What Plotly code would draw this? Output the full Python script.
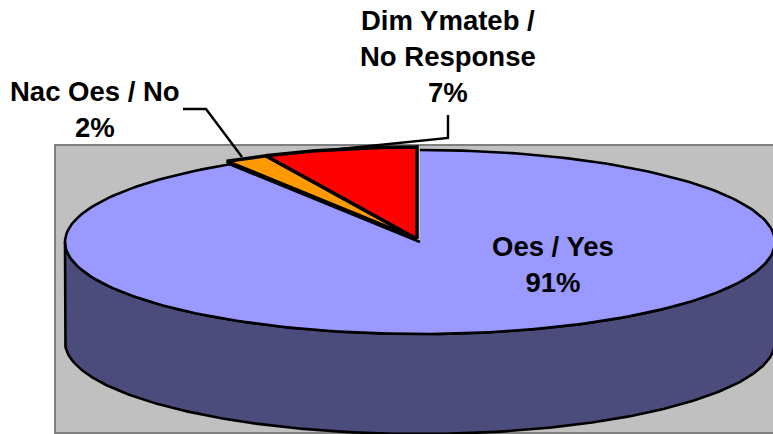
import numpy as np
import plotly.graph_objects as go

labels = ["Oes / Yes", "Nac Oes / No", "Dim Ymateb /<br>No Response"]
values = [91, 2, 7]
colors = ["#9999FF", "#FF9900", "#FF0000"]
side_color = "#4C4C7C"

W, H = 773, 434
CX, CY, RX, RY = 420, 242, 355, 92
DEPTH = 100
SHIFT = (-3, -3)   # small explosion of the two small slices


def pt(theta, cx=CX, cy=CY):
    return cx + RX * np.sin(theta), cy - RY * np.cos(theta)


def arc(a, b, cx=CX, cy=CY):
    t = np.linspace(a, b, 240)
    return pt(t, cx, cy)


fig = go.Figure()

# side wall of the Yes slice
t0, t1 = np.pi / 2, 3 * np.pi / 2
xt, yt = arc(t0, t1)
xs = np.concatenate([xt, xt[::-1], xt[:1]])
ys = np.concatenate([yt, (yt + DEPTH)[::-1], yt[:1]])
fig.add_trace(go.Scatter(x=xs, y=ys, mode="lines", fill="toself", fillcolor=side_color,
                         line=dict(color="black", width=2.6), hoverinfo="skip"))

# top faces
total = sum(values)
start = 0.0
for i, (v, c) in enumerate(zip(values, colors)):
    a, b = start, start + 2 * np.pi * v / total
    start = b
    cx, cy = (CX, CY) if i == 0 else (CX + SHIFT[0], CY + SHIFT[1])
    xa, ya = arc(a, b, cx, cy)
    xp = np.concatenate([[cx], xa, [cx]])
    yp = np.concatenate([[cy], ya, [cy]])
    fig.add_trace(go.Scatter(x=xp, y=yp, mode="lines", fill="toself", fillcolor=c,
                             line=dict(color="rgba(0,0,0,0)", width=0), hoverinfo="skip"))
    # outline: the large slice leaves its 12-o'clock edge unstroked
    xo = xp[1:] if i == 0 else xp
    yo = yp[1:] if i == 0 else yp
    fig.add_trace(go.Scatter(x=xo, y=yo, mode="lines",
                             line=dict(color="black", width=2.6 if i == 0 else 3.5),
                             hoverinfo="skip"))

# leader lines
fig.add_trace(go.Scatter(x=[183, 206, 242], y=[109, 109, 157], mode="lines",
                         line=dict(color="black", width=2.4), hoverinfo="skip"))
fig.add_trace(go.Scatter(x=[448, 448, 340], y=[115, 138, 149], mode="lines",
                         line=dict(color="black", width=2.4), hoverinfo="skip"))

font = dict(family="Liberation Sans, Arial, sans-serif", size=27.5, color="black")
percent = [f"{round(100 * v / total)}%" for v in values]
label_pos = [(553, 264), (95, 109), (448, 56)]
annotations = [
    dict(x=x, y=y, xref="x", yref="y", text=f"<b>{l.replace('<br>', '</b><br><b>')}</b><br><b>{p}</b>",
         showarrow=False, font=font, align="center", xanchor="center", yanchor="middle")
    for l, p, (x, y) in zip(labels, percent, label_pos)
]

fig.update_layout(
    width=W, height=H, margin=dict(l=0, r=0, t=0, b=0), showlegend=False,
    paper_bgcolor="white", plot_bgcolor="white",
    xaxis=dict(range=[0, W], visible=False, fixedrange=True),
    yaxis=dict(range=[H, 0], visible=False, fixedrange=True),
    annotations=annotations,
    shapes=[dict(type="rect", xref="x", yref="y", x0=55, y0=145, x1=W + 5, y1=433,
                 fillcolor="#C0C0C0", line=dict(color="#808080", width=2), layer="below")],
)
fig.write_html("out.html", config={"displayModeBar": False},
               post_script="document.body.style.margin='0';document.body.style.overflow='hidden';")
